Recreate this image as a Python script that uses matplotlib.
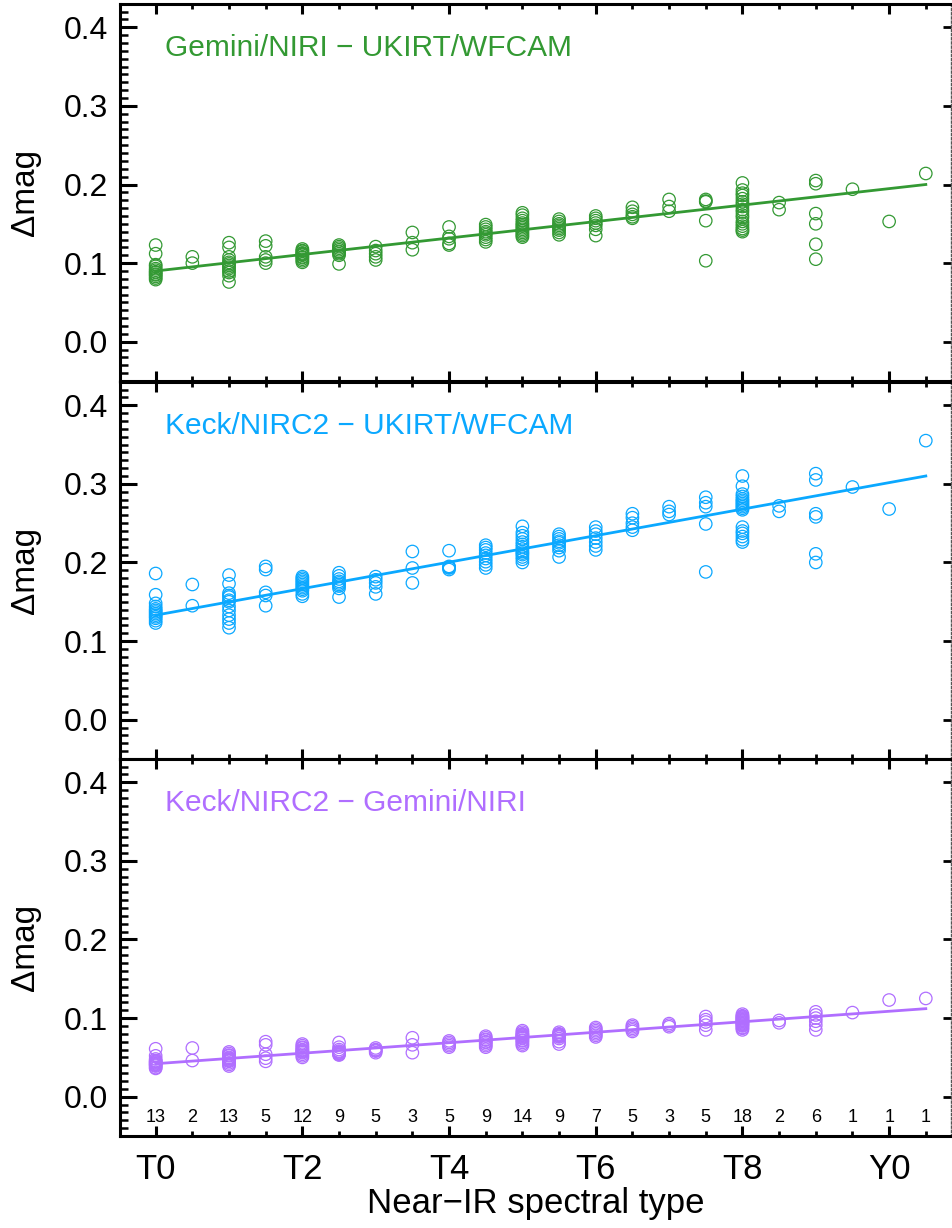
#!/usr/bin/python3
#
# plot.py
# Photometric offsets between instruments vs near-IR spectral type.

import matplotlib
matplotlib.use('Agg')
import matplotlib.pyplot as plt
import matplotlib.ticker as ticker

plt.rcParams['font.family'] = ['Liberation Sans', 'DejaVu Sans']

# spectral type codes (0 = T0, 10 = Y0) and number of objects per type
sptypes = [0, 0.5, 1, 1.5, 2, 2.5, 3, 3.5, 4, 4.5, 5, 5.5, 6, 6.5, 7, 7.5,
           8, 8.5, 9, 9.5, 10, 10.5]
counts = [13, 2, 13, 5, 12, 9, 5, 3, 5, 9, 14, 9, 7, 5, 3, 5, 18, 2, 6, 1, 1, 1]
xtick_pos = [0, 2, 4, 6, 8, 10]
xtick_labels = ['T0', 'T2', 'T4', 'T6', 'T8', 'Y0']

# Gemini/NIRI - UKIRT/WFCAM
dmag_niri_wfcam = [
    [0.123, 0.112, 0.098, 0.096, 0.093, 0.091, 0.089, 0.088, 0.086, 0.085, 0.083, 0.081, 0.079],
    [0.108, 0.100],
    [0.126, 0.120, 0.108, 0.104, 0.101, 0.099, 0.097, 0.095, 0.093, 0.090, 0.088, 0.084, 0.076],
    [0.128, 0.122, 0.108, 0.104, 0.100],
    [0.118, 0.116, 0.115, 0.113, 0.112, 0.111, 0.110, 0.108, 0.107, 0.105, 0.103, 0.101],
    [0.123, 0.121, 0.119, 0.117, 0.115, 0.114, 0.112, 0.110, 0.099],
    [0.121, 0.116, 0.112, 0.108, 0.104],
    [0.139, 0.126, 0.117],
    [0.146, 0.134, 0.131, 0.125, 0.123],
    [0.149, 0.146, 0.143, 0.140, 0.138, 0.136, 0.133, 0.130, 0.127],
    [0.164, 0.161, 0.157, 0.154, 0.151, 0.149, 0.147, 0.145, 0.143, 0.141, 0.139, 0.137, 0.135, 0.133],
    [0.156, 0.153, 0.150, 0.148, 0.146, 0.144, 0.142, 0.139, 0.136],
    [0.160, 0.157, 0.154, 0.151, 0.148, 0.143, 0.135],
    [0.171, 0.166, 0.162, 0.159, 0.157],
    [0.181, 0.172, 0.166],
    [0.181, 0.179, 0.178, 0.154, 0.103],
    [0.202, 0.193, 0.189, 0.186, 0.182, 0.178, 0.175, 0.172, 0.168, 0.165, 0.161, 0.158,
     0.153, 0.150, 0.147, 0.144, 0.142, 0.140],
    [0.177, 0.168],
    [0.205, 0.201, 0.163, 0.150, 0.124, 0.105],
    [0.194],
    [0.153],
    [0.214],
]

# Keck/NIRC2 - UKIRT/WFCAM
dmag_nirc2_wfcam = [
    [0.186, 0.159, 0.148, 0.144, 0.141, 0.139, 0.137, 0.135, 0.133, 0.131, 0.129, 0.126, 0.123],
    [0.172, 0.145],
    [0.184, 0.173, 0.161, 0.158, 0.156, 0.152, 0.150, 0.144, 0.139, 0.133, 0.128, 0.123, 0.117],
    [0.195, 0.191, 0.162, 0.158, 0.145],
    [0.182, 0.180, 0.178, 0.176, 0.174, 0.172, 0.170, 0.168, 0.166, 0.164, 0.160, 0.157],
    [0.187, 0.183, 0.179, 0.176, 0.174, 0.172, 0.170, 0.167, 0.156],
    [0.182, 0.178, 0.174, 0.169, 0.160],
    [0.214, 0.193, 0.174],
    [0.215, 0.195, 0.194, 0.193, 0.191],
    [0.222, 0.219, 0.216, 0.212, 0.209, 0.205, 0.201, 0.197, 0.193],
    [0.246, 0.238, 0.234, 0.230, 0.226, 0.223, 0.220, 0.217, 0.214, 0.212, 0.210, 0.207, 0.204, 0.200],
    [0.236, 0.233, 0.230, 0.227, 0.225, 0.222, 0.219, 0.215, 0.207],
    [0.245, 0.240, 0.236, 0.231, 0.226, 0.221, 0.216],
    [0.262, 0.257, 0.250, 0.245, 0.241],
    [0.271, 0.265, 0.261],
    [0.283, 0.276, 0.271, 0.249, 0.188],
    [0.310, 0.297, 0.287, 0.284, 0.281, 0.279, 0.277, 0.275, 0.273, 0.271, 0.269, 0.267,
     0.245, 0.240, 0.237, 0.233, 0.229, 0.226],
    [0.272, 0.265],
    [0.313, 0.305, 0.262, 0.258, 0.211, 0.200],
    [0.296],
    [0.268],
    [0.355],
]

# Keck/NIRC2 - Gemini/NIRI
dmag_nirc2_niri = [
    [0.061, 0.052, 0.048, 0.046, 0.045, 0.044, 0.043, 0.042, 0.041, 0.040, 0.039, 0.037, 0.036],
    [0.062, 0.046],
    [0.057, 0.055, 0.053, 0.052, 0.050, 0.049, 0.048, 0.047, 0.046, 0.045, 0.043, 0.041, 0.039],
    [0.070, 0.066, 0.054, 0.049, 0.045],
    [0.067, 0.065, 0.063, 0.062, 0.060, 0.059, 0.058, 0.057, 0.056, 0.054, 0.052, 0.050],
    [0.069, 0.063, 0.060, 0.058, 0.057, 0.056, 0.055, 0.054, 0.053],
    [0.062, 0.060, 0.059, 0.058, 0.056],
    [0.075, 0.066, 0.056],
    [0.071, 0.069, 0.067, 0.065, 0.063],
    [0.077, 0.075, 0.073, 0.072, 0.070, 0.069, 0.067, 0.065, 0.063],
    [0.084, 0.082, 0.080, 0.079, 0.078, 0.077, 0.076, 0.075, 0.074, 0.072, 0.071, 0.069, 0.067, 0.065],
    [0.082, 0.080, 0.079, 0.078, 0.077, 0.076, 0.074, 0.070, 0.067],
    [0.088, 0.086, 0.084, 0.082, 0.080, 0.078, 0.076],
    [0.091, 0.089, 0.087, 0.085, 0.083],
    [0.093, 0.091, 0.089],
    [0.102, 0.098, 0.095, 0.091, 0.085],
    [0.105, 0.103, 0.102, 0.101, 0.100, 0.099, 0.098, 0.097, 0.096, 0.095, 0.094, 0.093,
     0.092, 0.091, 0.090, 0.088, 0.087, 0.085],
    [0.097, 0.094],
    [0.108, 0.104, 0.100, 0.096, 0.091, 0.085],
    [0.107],
    [0.123],
    [0.125],
]

# linear fits, evaluated at the ends of the spectral type range
fit_x = [0, 10.5]
fit_niri_wfcam = [0.090, 0.200]
fit_nirc2_wfcam = [0.133, 0.310]
fit_nirc2_niri = [0.042, 0.112]

panels = [
    ('Gemini/NIRI \u2212 UKIRT/WFCAM', '#339933', dmag_niri_wfcam, fit_niri_wfcam),
    ('Keck/NIRC2 \u2212 UKIRT/WFCAM', '#0aa8ff', dmag_nirc2_wfcam, fit_nirc2_wfcam),
    ('Keck/NIRC2 \u2212 Gemini/NIRI', '#b06eff', dmag_nirc2_niri, fit_nirc2_niri),
]

fig = plt.figure(figsize=(9.53, 12.28), dpi=100)
left, width, height = 0.1264, 0.872, 0.3073
bottoms = [0.6897, 0.3819, 0.0749]

for i, (label, color, dmag, fit) in enumerate(panels):
    ax = fig.add_axes([left, bottoms[i], width, height])
    for x, vals in zip(sptypes, dmag):
        ax.scatter([x] * len(vals), vals, s=80, facecolors='none',
                   edgecolors=color, linewidths=0.9, zorder=3)
    ax.plot(fit_x, fit, '-', color=color, lw=2.0, zorder=4)

    ax.set_xlim(-0.48, 10.85)
    ax.set_ylim(-0.05, 0.43)

    ax.xaxis.set_major_locator(ticker.FixedLocator(xtick_pos))
    ax.xaxis.set_minor_locator(ticker.MultipleLocator(0.5))
    ax.yaxis.set_major_locator(ticker.MultipleLocator(0.1))
    ax.yaxis.set_minor_locator(ticker.MultipleLocator(0.01))
    ax.yaxis.set_major_formatter(ticker.FormatStrFormatter('%.1f'))

    ax.tick_params(axis='x', which='major', direction='in', top=True, bottom=True,
                   length=7, width=2.2, labelsize=25, pad=12)
    ax.tick_params(axis='x', which='minor', direction='in', top=True, bottom=True,
                   length=3.5, width=2)
    ax.tick_params(axis='y', which='major', direction='in', right=False,
                   length=12, width=2.2, labelsize=23, pad=9)
    ax.tick_params(axis='y', which='minor', direction='in', right=False,
                   length=6, width=1.8)

    for side in ['left', 'top', 'bottom']:
        ax.spines[side].set_linewidth(2.2)
    ax.spines['right'].set_visible(False)

    # right edge: thin dotted border with short major ticks
    sec = ax.secondary_yaxis('right')
    sec.yaxis.set_major_locator(ticker.MultipleLocator(0.1))
    sec.yaxis.set_minor_locator(ticker.NullLocator())
    sec.tick_params(direction='in', length=6, width=2, labelright=False)
    sec.spines['right'].set_linestyle((0, (1.5, 1.5)))
    sec.spines['right'].set_linewidth(1.0)
    sec.spines['right'].set_color('#555555')

    ax.set_ylabel('\u0394mag', fontsize=24)
    ax.yaxis.set_label_coords(-0.096, 0.5)

    ax.text(0.054, 0.883, label, transform=ax.transAxes, color=color,
            fontsize=21.5, ha='left', va='center')

    if i < 2:
        ax.set_xticklabels([])
    else:
        ax.set_xticklabels(xtick_labels)
        ax.set_xlabel('Near\u2212IR spectral type', fontsize=25)
        ax.xaxis.set_label_coords(0.5, -0.135)
        for x, n in zip(sptypes, counts):
            ax.text(x, -0.027, str(n), ha='center', va='center', fontsize=13)

fig.savefig('out.png', dpi=100)
